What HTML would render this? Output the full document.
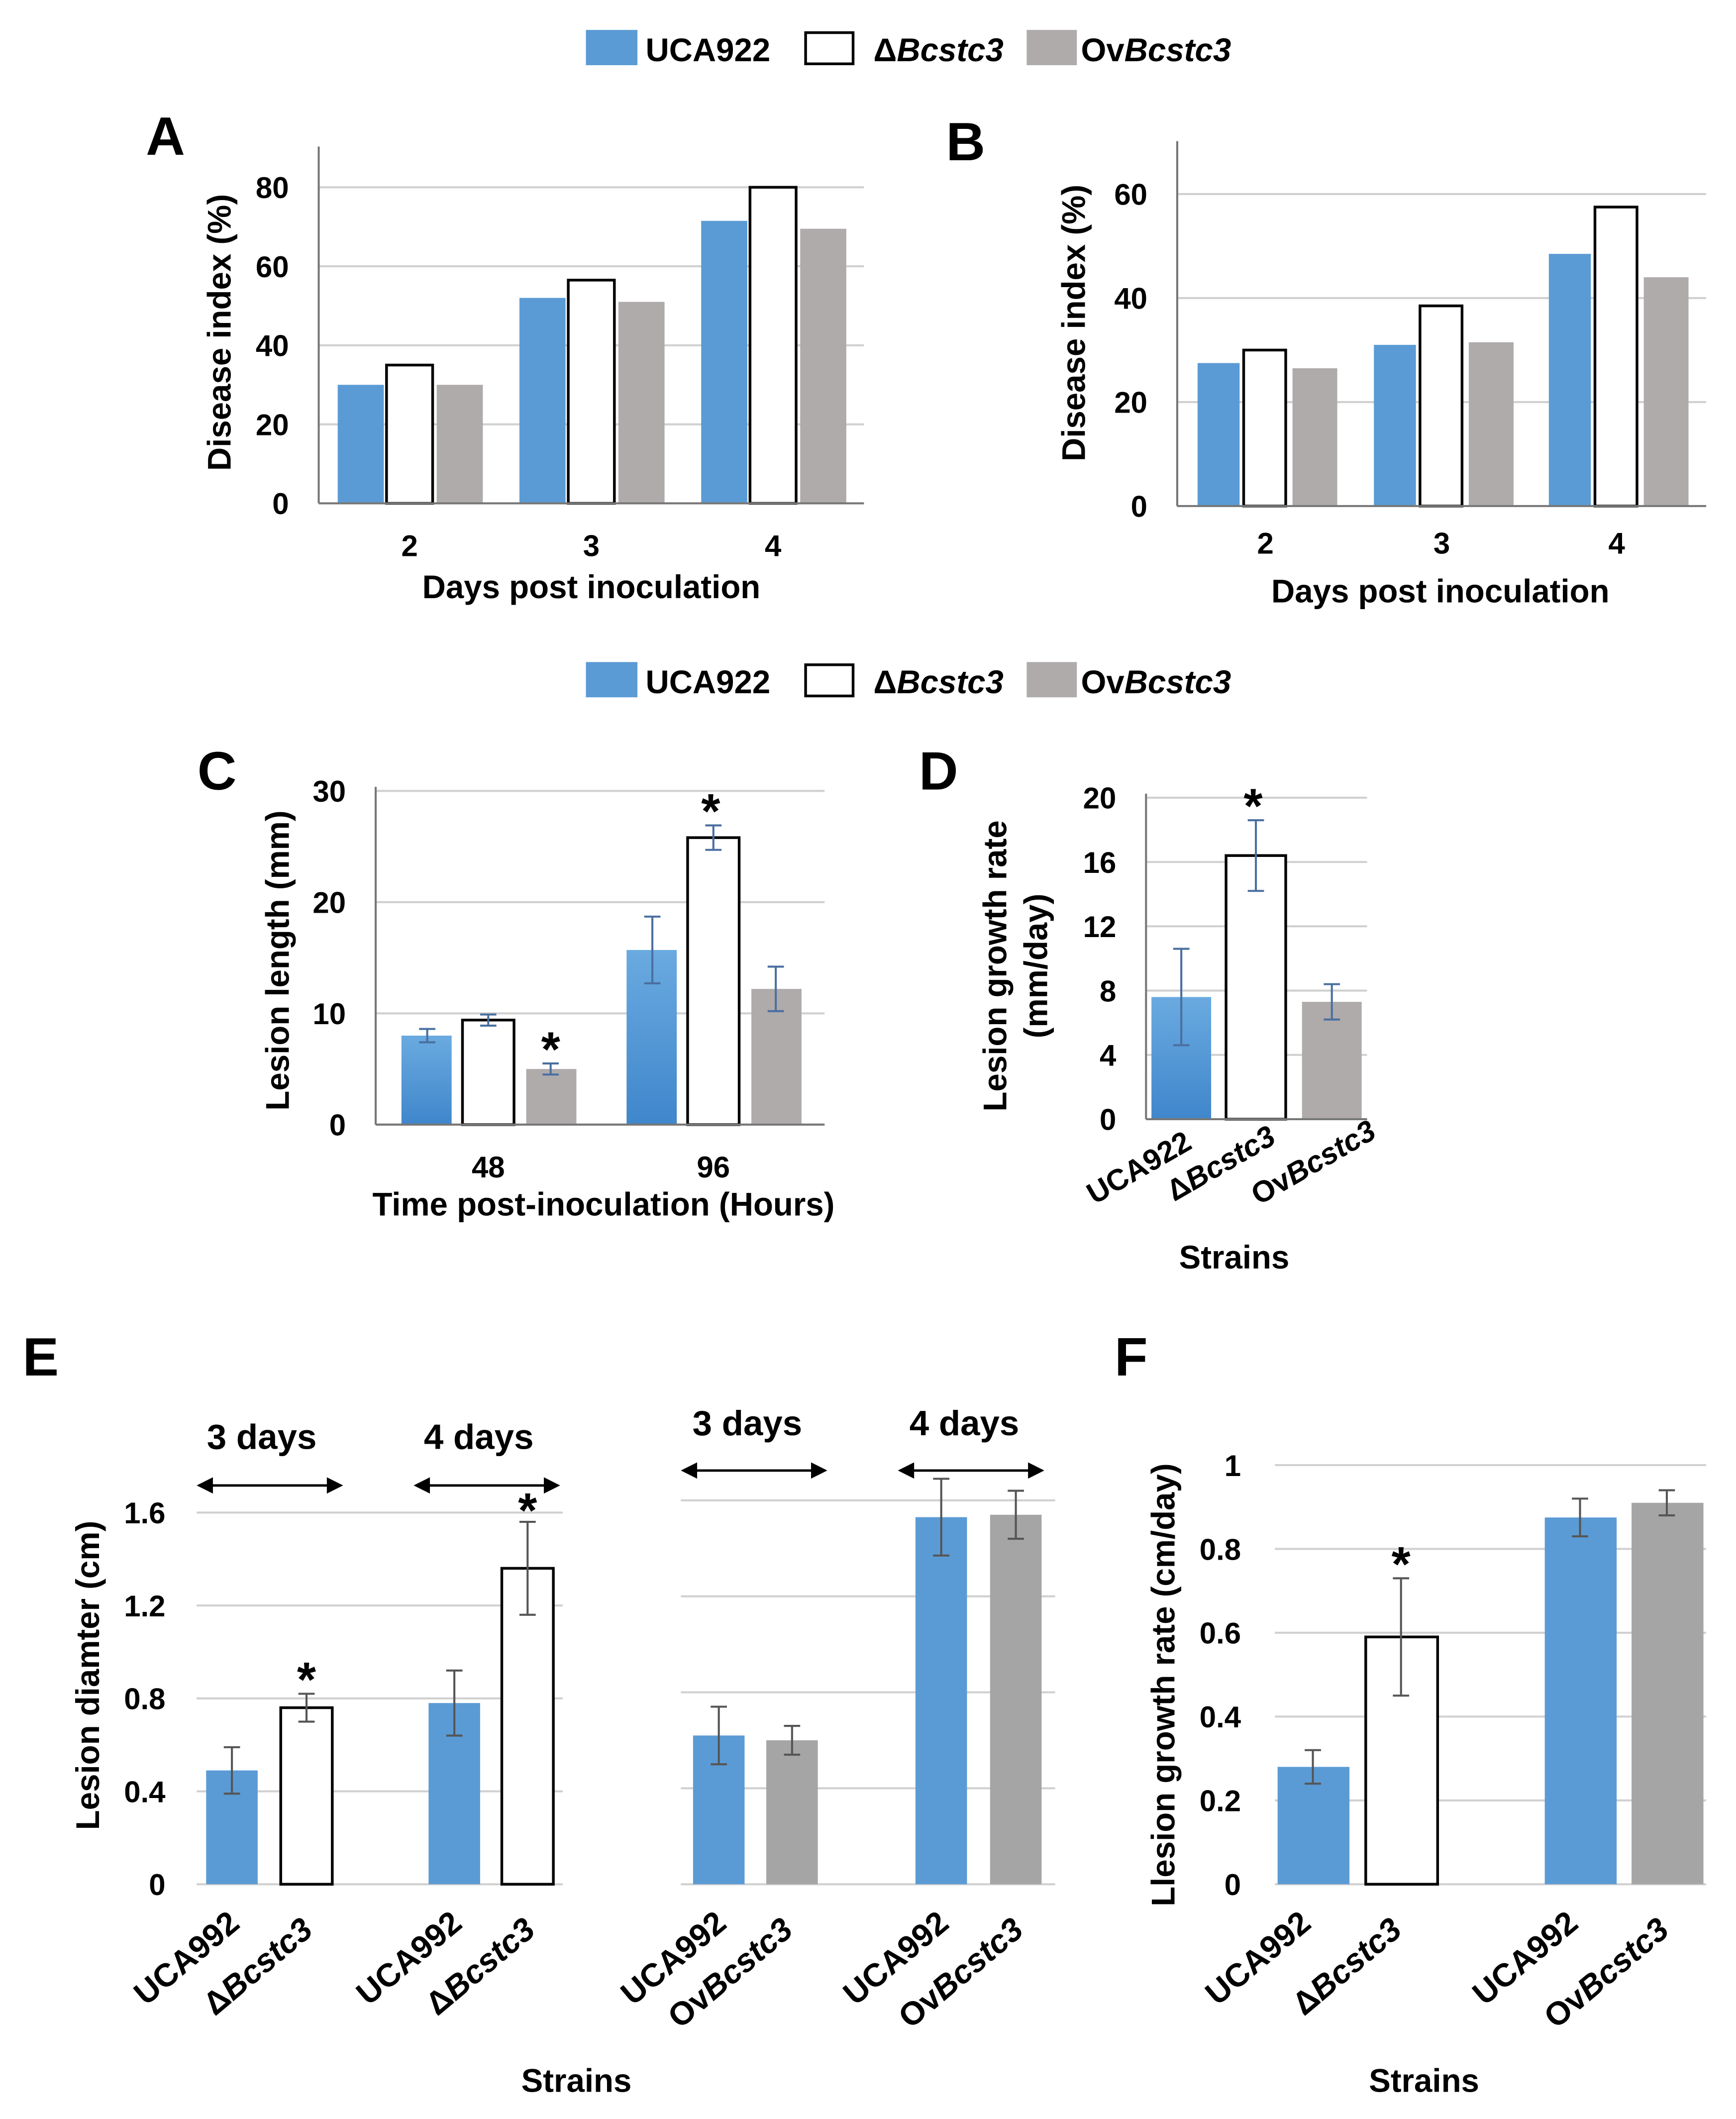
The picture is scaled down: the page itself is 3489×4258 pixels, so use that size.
<!DOCTYPE html>
<html><head><meta charset="utf-8">
<style>
html,body{margin:0;padding:0;background:#fff;}
svg{display:block;}
text{font-family:"Liberation Sans",Arial,sans-serif;font-weight:bold;fill:#000;}
</style></head>
<body>
<svg id="root" width="3489" height="4258" viewBox="0 0 1280 1562" xmlns="http://www.w3.org/2000/svg">
<defs>
<linearGradient id="blueGrad" x1="0" y1="0" x2="0" y2="1">
<stop offset="0" stop-color="#6aaae0"/><stop offset="1" stop-color="#3f86cb"/>
</linearGradient>
</defs>
</svg>
<script>
// ---------- data ----------
const daysAB = ["2","3","4"];
const aBlue = [30,52,71.5];
const aWhite = [35,56.5,80];
const aGray = [30,51,69.5];
const aTicks = [0,20,40,60,80];
const bBlue = [27.5,31,48.5];
const bWhite = [30,38.5,57.5];
const bGray = [26.5,31.5,44];
const bTicks = [0,20,40,60];
const hoursC = ["48","96"];
const cBlue = [8,15.7];
const cWhite = [9.4,25.8];
const cGray = [5,12.2];
const cBlueErr = [0.6,3];
const cWhiteErr = [0.5,1.1];
const cGrayErr = [0.5,2];
const cTicks = [0,10,20,30];
const dStrains = ["UCA922","\u0394Bcstc3","OvBcstc3"];
const dValues = [7.6,16.4,7.3];
const dErr = [3,2.2,1.1];
const dTicks = [0,4,8,12,16,20];
const eLeftValues = [0.49,0.76,0.78,1.36];
const eLeftErr = [0.1,0.06,0.14,0.2];
const eRightValues = [0.62,0.6,1.53,1.54];
const eRightErr = [0.12,0.06,0.16,0.1];
const eTicks = [0,0.4,0.8,1.2,1.6];
const fValues = [0.28,0.59,0.875,0.91];
const fErr = [0.04,0.14,0.045,0.03];
const fTicks = [0,0.2,0.4,0.6,0.8,1];

const svg = document.getElementById('root');
const NS = "http://www.w3.org/2000/svg";
function mk(tag, attrs, name, parent){
  const el = document.createElementNS(NS, tag);
  for (const k in attrs) el.setAttribute(k, attrs[k]);
  
  
  (parent||svg).appendChild(el);
  return el;
}
function txt(x,y,s,size,name,anchor,extra){
  const a = Object.assign({x:x,y:y,'font-size':size,'text-anchor':anchor||'middle'}, extra||{});
  const t = mk('text', a, name);
  t.innerHTML = s;
  return t;
}
const BLUE="#5b9bd5", GRAY="#afabab", DGRAY="#a5a5a5";
function scale(zero, top, max){ return v => zero - v*(zero-top)/max; }
function grid(y, ticks, x0, x1, name, labels, lx){
  ticks.forEach(t=>{
    mk('line',{x1:x0,x2:x1,y1:y(t),y2:y(t),stroke:'#d0d0d0','stroke-width':1.5}, name+'-gridline');
    if(labels) txt(lx, y(t)+8, String(t), 22, name+'-tick-label','end');
  });
}
function bar(x,w,y0,v,y,fill,name,stroke){
  mk('rect',{x:x,y:y(v),width:w,height:y0-y(v),fill:fill,stroke:stroke||'none','stroke-width':stroke?2:0}, name);
}
function err(cx,v,e,y,color,name){
  mk('line',{x1:cx,x2:cx,y1:y(v+e),y2:y(v-e),stroke:color,'stroke-width':1.5}, name);
  mk('line',{x1:cx-6,x2:cx+6,y1:y(v+e),y2:y(v+e),stroke:color,'stroke-width':1.5}, name+'-cap');
  mk('line',{x1:cx-6,x2:cx+6,y1:y(v-e),y2:y(v-e),stroke:color,'stroke-width':1.5}, name+'-cap');
}
function star(x,yTop,name){ txt(x,yTop+2,'*',36,name); }
function axes(x,yTop,yZero,xEnd,name){
  mk('line',{x1:x,x2:x,y1:yTop,y2:yZero,stroke:'#777','stroke-width':1.5}, name+'-y-axis');
  mk('line',{x1:x,x2:xEnd,y1:yZero,y2:yZero,stroke:'#777','stroke-width':1.5}, name+'-x-axis');
}
function legend(y,name){
  mk('rect',{x:432,y:y-14,width:38,height:26,fill:BLUE}, name+'-swatch-uca922');
  txt(476,y+9,'UCA922',24,name+'-label-uca922','start');
  mk('rect',{x:594,y:y-12,width:35,height:23,fill:'#fff',stroke:'#000','stroke-width':2}, name+'-swatch-bcstc3');
  txt(644,y+9,'\u0394<tspan font-style="italic">Bcstc3</tspan>',24,name+'-label-bcstc3','start');
  mk('rect',{x:757,y:y-14,width:37,height:26,fill:GRAY}, name+'-swatch-ovbcstc3');
  txt(797,y+9,'Ov<tspan font-style="italic">Bcstc3</tspan>',24,name+'-label-ovbcstc3','start');
}
function vtitle(x,y,s,name,size){
  txt(x,y,s,size||24,name,'middle',{transform:`rotate(-90 ${x} ${y})`});
}
function rlabel(x,y,s,name,size,ang){
  const a = ang||40;
  txt(x,y,s,size||22,name,'end',{transform:`rotate(-${a} ${x} ${y})`});
}

legend(36,'legend-top');
legend(502,'legend-middle');

// ---- Panel A ----
txt(122,114,'A',40,'panel-label-a');
{
  const y = scale(371,138,80);
  grid(y,aTicks,235,637,'panel-a',true,213);
  const centers=[302,436,570];
  daysAB.forEach((d,i)=>{
    const c=centers[i];
    bar(c-53,34,371,aBlue[i],y,BLUE,'panel-a-bar-uca922-day'+d);
    bar(c-17,34,371,aWhite[i],y,'#fff','panel-a-bar-bcstc3-day'+d,'#000');
    bar(c+20,34,371,aGray[i],y,GRAY,'panel-a-bar-ovbcstc3-day'+d);
    txt(c,410,d,22,'panel-a-x-tick-label');
  });
  axes(235,108,371,637,'panel-a');
  vtitle(170,245,'Disease index (%)','panel-a-y-axis-title');
  txt(436,441,'Days post inoculation',24,'panel-a-x-axis-title');
}
// ---- Panel B ----
txt(712,118,'B',40,'panel-label-b');
{
  const y = scale(373,143,60);
  grid(y,bTicks,868,1258,'panel-b',true,846);
  const centers=[933,1063,1192];
  daysAB.forEach((d,i)=>{
    const c=centers[i];
    bar(c-50,31,373,bBlue[i],y,BLUE,'panel-b-bar-uca922-day'+d);
    bar(c-16,31,373,bWhite[i],y,'#fff','panel-b-bar-bcstc3-day'+d,'#000');
    bar(c+20,33,373,bGray[i],y,GRAY,'panel-b-bar-ovbcstc3-day'+d);
    txt(c,408,d,22,'panel-b-x-tick-label');
  });
  axes(868,104,373,1258,'panel-b');
  vtitle(800,238,'Disease index (%)','panel-b-y-axis-title');
  txt(1062,444,'Days post inoculation',24,'panel-b-x-axis-title');
}
// ---- Panel C ----
txt(160,582,'C',40,'panel-label-c');
{
  const y = scale(829,583,30);
  grid(y,cTicks,277,608,'panel-c',true,255);
  const centers=[360,526];
  hoursC.forEach((h,i)=>{
    const c=centers[i];
    bar(c-64,37,829,cBlue[i],y,'url(#blueGrad)','panel-c-bar-uca922-'+h+'h');
    bar(c-19,38,829,cWhite[i],y,'#fff','panel-c-bar-bcstc3-'+h+'h','#000');
    bar(c+28,37,829,cGray[i],y,GRAY,'panel-c-bar-ovbcstc3-'+h+'h');
    err(c-45,cBlue[i],cBlueErr[i],y,'#4a6fa0','panel-c-error-uca922');
    err(c,cWhite[i],cWhiteErr[i],y,'#4a6fa0','panel-c-error-bcstc3');
    err(c+46,cGray[i],cGrayErr[i],y,'#4a6fa0','panel-c-error-ovbcstc3');
    txt(c,868,h,22,'panel-c-x-tick-label');
  });
  star(524,y(cWhite[1]+cWhiteErr[1]),'panel-c-significance-star');
  star(406,y(cGray[0]+cGrayErr[0]),'panel-c-significance-star');
  axes(277,580,829,608,'panel-c');
  vtitle(213,708,'Lesion length (mm)','panel-c-y-axis-title');
  txt(445,896,'Time post-inoculation (Hours)',24,'panel-c-x-axis-title');
}
// ---- Panel D ----
txt(692,582,'D',40,'panel-label-d');
{
  const y = scale(825,588,20);
  grid(y,dTicks,845,1008,'panel-d',true,823);
  const centers=[871,926,982];
  const fills=['url(#blueGrad)','#fff',GRAY];
  dStrains.forEach((s,i)=>{
    const c=centers[i];
    bar(c-22,44,825,dValues[i],y,fills[i],'panel-d-bar-'+i,i===1?'#000':null);
    err(c,dValues[i],dErr[i],y,'#4a6fa0','panel-d-error-'+i);
  });
  rlabel(880,846,'UCA922','panel-d-x-tick-label',22,30);
  rlabel(942,842,'\u0394<tspan font-style="italic">Bcstc3</tspan>','panel-d-x-tick-label',22,30);
  rlabel(1016,838,'Ov<tspan font-style="italic">Bcstc3</tspan>','panel-d-x-tick-label',22,30);
  star(924,y(dValues[1]+dErr[1]),'panel-d-significance-star');
  axes(845,585,825,1008,'panel-d');
  vtitle(742,712,'Lesion growth rate','panel-d-y-axis-title');
  vtitle(772,712,'(mm/day)','panel-d-y-axis-title-units');
  txt(910,935,'Strains',24,'panel-d-x-axis-title');
}
// ---- Panel E ----
txt(30,1014,'E',40,'panel-label-e');
function arrow(x0,x1,yy,name){
  mk('line',{x1:x0+8,x2:x1-8,y1:yy,y2:yy,stroke:'#000','stroke-width':1.8}, name);
  mk('path',{d:`M${x0} ${yy} l12 -6 v12 z`,fill:'#000'}, name+'-head-left');
  mk('path',{d:`M${x1} ${yy} l-12 -6 v12 z`,fill:'#000'}, name+'-head-right');
}
{
  const y = scale(1389,1115,1.6);
  grid(y,eTicks,145,415,'panel-e-left',true,122);
  const xs=[152,207,316,370];
  const fills=[BLUE,'#fff',BLUE,'#fff'];
  eLeftValues.forEach((v,i)=>{
    bar(xs[i],38,1389,v,y,fills[i],'panel-e-left-bar-'+i,i%2?'#000':null);
    err(xs[i]+19,v,eLeftErr[i],y,'#555','panel-e-left-error-'+i);
  });
  star(226,y(eLeftValues[1]+eLeftErr[1]),'panel-e-left-star');
  star(389,y(eLeftValues[3]+eLeftErr[3])+2,'panel-e-left-star');
  arrow(145,253,1095,'panel-e-arrow-3days-left'); arrow(305,413,1095,'panel-e-arrow-4days-left');
  txt(193,1068,'3 days',26,'panel-e-label-3days'); txt(353,1068,'4 days',26,'panel-e-label-4days');
  vtitle(73,1235,'Lesion diamter (cm)','panel-e-y-axis-title');

  const y2 = scale(1389,1106,1.6);
  grid(y2,eTicks,502,778,'panel-e-right',false);
  const xs2=[511,565,675,730];
  const fills2=[BLUE,DGRAY,BLUE,DGRAY];
  eRightValues.forEach((v,i)=>{
    bar(xs2[i],38,1389,v,y2,fills2[i],'panel-e-right-bar-'+i);
    err(xs2[i]+19,v,eRightErr[i],y2,'#555','panel-e-right-error-'+i);
  });
  arrow(502,610,1084,'panel-e-arrow-3days-right'); arrow(662,770,1084,'panel-e-arrow-4days-right');
  txt(551,1058,'3 days',26,'panel-e-label-3days'); txt(711,1058,'4 days',26,'panel-e-label-4days');

  const lab=[[178,1420,'UCA992'],[232,1425,'\u0394<tspan font-style="italic">Bcstc3</tspan>'],[342,1420,'UCA992'],[396,1425,'\u0394<tspan font-style="italic">Bcstc3</tspan>'],
             [537,1420,'UCA992'],[586,1425,'Ov<tspan font-style="italic">Bcstc3</tspan>'],[701,1420,'UCA992'],[756,1425,'Ov<tspan font-style="italic">Bcstc3</tspan>']];
  lab.forEach(l=>rlabel(l[0],l[1],l[2],'panel-e-x-tick-label',24));
  txt(425,1542,'Strains',24,'panel-e-x-axis-title');
}
// ---- Panel F ----
txt(834,1014,'F',40,'panel-label-f');
{
  const y = scale(1389,1080,1);
  grid(y,fTicks,940,1258,'panel-f',true,915);
  const xs=[942,1007,1139,1203];
  const fills=[BLUE,'#fff',BLUE,DGRAY];
  fValues.forEach((v,i)=>{
    bar(xs[i],53,1389,v,y,fills[i],'panel-f-bar-'+i,i===1?'#000':null);
    err(xs[i]+26,v,fErr[i],y,'#555','panel-f-error-'+i);
  });
  star(1033,y(fValues[1]+fErr[1]),'panel-f-significance-star');
  const lab=[[968,1420,'UCA992'],[1035,1425,'\u0394<tspan font-style="italic">Bcstc3</tspan>'],[1165,1420,'UCA992'],[1232,1425,'Ov<tspan font-style="italic">Bcstc3</tspan>']];
  lab.forEach(l=>rlabel(l[0],l[1],l[2],'panel-f-x-tick-label',24));
  vtitle(866,1242,'Llesion  growth rate (cm/day)','panel-f-y-axis-title');
  txt(1050,1542,'Strains',24,'panel-f-x-axis-title');
}
</script>
</body></html>
